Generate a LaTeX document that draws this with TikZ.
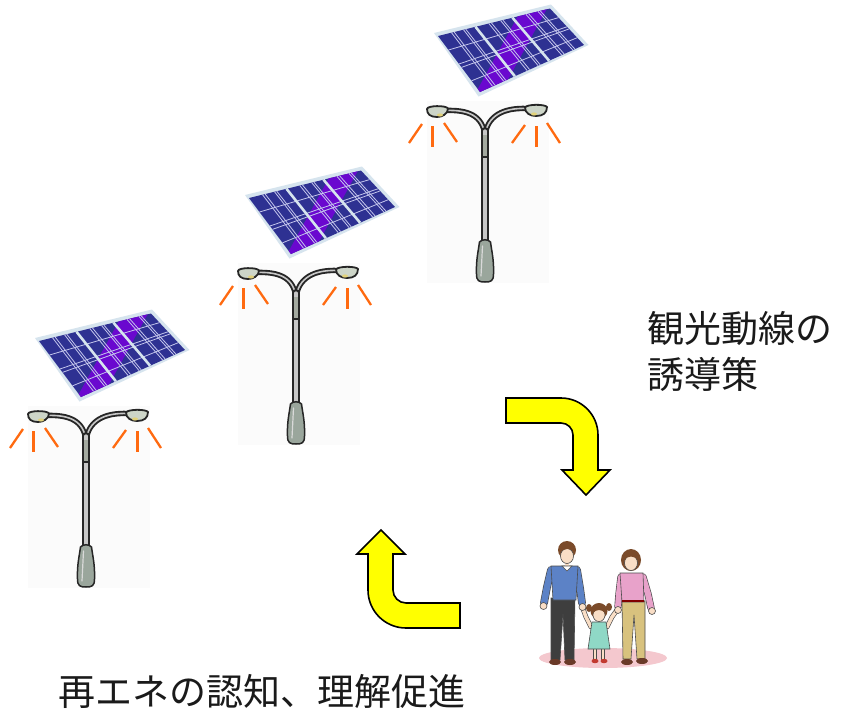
\documentclass[tikz,border=0pt]{standalone}
\usepackage{fontspec}
\usetikzlibrary{calc}
\newfontfamily\jpfont{Noto Sans CJK JP}

\definecolor{panelnavy}{HTML}{2E3192}
\definecolor{panelviolet}{HTML}{6A08CF}
\definecolor{panelframe}{HTML}{D6E4EE}
\definecolor{panelgrid}{HTML}{C4C6EC}
\definecolor{rayorange}{HTML}{FF6A10}
\definecolor{lampfill}{HTML}{CDD5C8}
\definecolor{lampbase}{HTML}{9AA69C}
\definecolor{lampbulb}{HTML}{E2D27A}
\definecolor{arrowyellow}{HTML}{FFFF00}
\definecolor{groundpink}{HTML}{F4C8CE}
\definecolor{skin}{HTML}{F9DEC6}
\definecolor{hairbrown}{HTML}{7B4B2A}
\definecolor{shirtblue}{HTML}{5C82C6}
\definecolor{pantdark}{HTML}{3E3E3E}
\definecolor{topPink}{HTML}{E8A2CA}
\definecolor{pantbeige}{HTML}{D8C27E}
\definecolor{dressmint}{HTML}{8FD8C6}
\definecolor{shoebrown}{HTML}{6A3A28}
\definecolor{shoered}{HTML}{C23A30}
\definecolor{textgray}{HTML}{1A1A1A}

\tikzset{
  gridln/.style={draw=panelgrid, line width=0.8},
  raystraight/.style={draw=rayorange, line width=3},
  rayslant/.style={draw=rayorange, line width=2.3},
  lampout/.style={draw=black!85, line cap=round},
  lampcore/.style={draw=black!22, line cap=round},
  bentarrow/.style={fill=arrowyellow, draw=black, line width=1.6, line join=miter},
  jptext/.style={inner sep=0pt, text=textgray, font=\jpfont\fontsize{37}{45}\selectfont},
  figline/.style={draw=black!70, line width=0.6},
}

% bilinear point (u,v) of the panel quad pa-pb-pc-pd, stored as coordinate #1
\newcommand\setpq[3]{%
  \path ($(pa)!#2!(pb)$) coordinate (pqtop) ($(pd)!#2!(pc)$) coordinate (pqbot);
  \path ($(pqtop)!#3!(pqbot)$) coordinate (#1);
}

% limb with dark outline: colour, width, path
\newcommand\limb[3]{%
  \draw[line cap=round, line width=#2+1.3, draw=black!70] #3;
  \draw[line cap=round, line width=#2, draw=#1] #3;
}

% one solar panel (in the frame of the first lamp)
\newcommand\solarpanel{%
  \fill[panelframe] (35,338) -- (152,309.5) -- (189.5,350) -- (79.5,401.5) -- cycle;
  \coordinate (pa) at (39,341);
  \coordinate (pb) at (151,313.5);
  \coordinate (pc) at (185,350);
  \coordinate (pd) at (81,397);
  \fill[panelnavy] (pa) -- (pb) -- (pc) -- (pd) -- cycle;
  \begin{scope}
    \clip (pa) -- (pb) -- (pc) -- (pd) -- cycle;
    \fill[panelviolet] (70,410) -- (130.5,300) -- (155.5,300) -- (95,410) -- cycle;
  \end{scope}
  \foreach \ua/\ub in {0/0.335,0.335/0.665,0.665/1}{
    \foreach \t in {0.36,0.43,0.68,0.74}{
      \pgfmathsetmacro\uu{\ua+\t*(\ub-\ua)}
      \draw[gridln] ($(pa)!\uu!(pb)$) -- ($(pd)!\uu!(pc)$);
    }
    \foreach \t in {0.25,0.5,0.56,0.8}{
      \setpq{ga}{\ua}{\t}
      \setpq{gb}{\ub}{\t}
      \draw[gridln] (ga) -- (gb);
    }
  }
  \draw[panelframe, line width=2.6] ($(pa)!0.335!(pb)$) -- ($(pd)!0.335!(pc)$);
  \draw[panelframe, line width=2.6] ($(pa)!0.665!(pb)$) -- ($(pd)!0.665!(pc)$);
}

% one two-armed street lamp with its light rays
\newcommand\streetlamp{%
  \fill[black!1.5] (28,406) rectangle (150,588);
  % light rays
  \draw[rayslant] (10,448) -- (23,429);
  \draw[raystraight] (33,431) -- (33,452);
  \draw[rayslant] (45,428) -- (58,447);
  \draw[rayslant] (113,448) -- (126,430);
  \draw[raystraight] (137,431) -- (137,452);
  \draw[rayslant] (148,428) -- (161,448);
  % arms
  \draw[lampout, line width=5.4] (46,415.5) .. controls (70,414.5) and (84,421) .. (86,441);
  \draw[lampout, line width=5.4] (128,413.5) .. controls (104,412.5) and (88,421) .. (86,441);
  \draw[lampcore, line width=1.6] (46,415.5) .. controls (70,414.5) and (84,421) .. (86,441);
  \draw[lampcore, line width=1.6] (128,413.5) .. controls (104,412.5) and (88,421) .. (86,441);
  % pole
  \draw[lampout, line width=8] (86,436) -- (86,552);
  \draw[lampcore, line width=3.2] (86,436) -- (86,552);
  \draw[black!20!lampfill, line width=3.2] (86,440) -- (86,461);
  \draw[black!85, line width=1.2] (82,462) -- (90,462);
  % foot
  \filldraw[fill=lampbase, draw=black!85, line width=1.5]
    (80.5,547) .. controls (79,558) and (77,565) .. (77.5,579)
    .. controls (77.5,586) and (80,587) .. (86,587)
    .. controls (92,587) and (94.5,586) .. (94.5,579)
    .. controls (95,565) and (93,558) .. (91.5,547)
    .. controls (89,544) and (83,544) .. cycle;
  \draw[black!15, line width=1.2, line cap=round] (83.5,551) -- (82,581);
  % heads
  \filldraw[fill=lampfill, draw=black!85, line width=1.8]
    (28,414) .. controls (28,410.5) and (47,410) .. (49,413.5)
    .. controls (49,419) and (43,422) .. (38,422)
    .. controls (31,422) and (28,419) .. cycle;
  \fill[lampbulb] (41,420) ellipse [x radius=3pt, y radius=1.6pt];
  \filldraw[fill=lampfill, draw=black!85, line width=1.8]
    (126,412.5) .. controls (128,409) and (146,409) .. (148,412)
    .. controls (148,418) and (144,421) .. (137,421)
    .. controls (131,421) and (126,418) .. cycle;
  \fill[lampbulb] (135,419) ellipse [x radius=3pt, y radius=1.6pt];
}

\begin{document}
\begin{tikzpicture}[x=1pt, y=-1pt]
\useasboundingbox (0,0) rectangle (847,721);
\fill[white] (0,0) rectangle (847,721);

% three lamps with solar panels, rising to the right
\begin{scope}
  \streetlamp
  \solarpanel
\end{scope}
\begin{scope}[shift={(210,-143)}]
  \streetlamp
  \solarpanel
\end{scope}
\begin{scope}[shift={(399,-305)}]
  \streetlamp
  \solarpanel
\end{scope}

% bent arrows of the cycle
\draw[bentarrow] (506,398) -- (561,398)
  .. controls (581.4,398) and (598,414.6) .. (598,435)
  -- (598,470) -- (610,470) -- (586,495) -- (562,470) -- (573,470) -- (573,435)
  .. controls (573,428.4) and (567.6,423) .. (561,423)
  -- (506,423) -- cycle;
\draw[bentarrow] (381,530) -- (405,554) -- (393,554) -- (393,590)
  .. controls (393,597.2) and (398.8,603) .. (406,603)
  -- (460,603) -- (460,628) -- (406,628)
  .. controls (385,628) and (368,611) .. (368,590)
  -- (368,554) -- (357,554) -- cycle;

% family walking
\fill[groundpink] (603,658) ellipse [x radius=64pt, y radius=10pt];
% father
\filldraw[fill=pantdark, figline] (551,598) -- (575,598) -- (574,660) -- (565,660)
  -- (563,614) -- (560,660) -- (551,660) -- cycle;
\fill[shoebrown] (555,662) ellipse [x radius=6pt, y radius=3pt];
\fill[shoebrown] (570,662) ellipse [x radius=6pt, y radius=3pt];
\limb{shirtblue}{6.5}{(551,570) -- (547,587) -- (544,603)}
\limb{shirtblue}{6.5}{(577,570) -- (580,588) -- (582,603)}
\filldraw[fill=shirtblue, figline] (551,566) -- (578,566) -- (576,600) -- (553,600) -- cycle;
\fill[skin] (565,560) rectangle (569,567);
\filldraw[fill=white, figline] (562,566) -- (567,571) -- (572,566) -- cycle;
\fill[hairbrown] (567,550) ellipse [x radius=9pt, y radius=9pt];
\filldraw[fill=skin, figline] (567,556) ellipse [x radius=6.5pt, y radius=7.5pt];
\fill[hairbrown] (559.5,553) .. controls (560,543) and (575,542) .. (575,553)
  .. controls (572,548) and (564,547) .. cycle;
\filldraw[fill=skin, figline] (543.5,606) circle [radius=3.5pt];
% mother
\filldraw[fill=pantbeige, figline] (622,601) -- (645,601) -- (645,659) -- (637,659)
  -- (634,615) -- (631,659) -- (623,659) -- cycle;
\fill[shoebrown] (627,662) ellipse [x radius=6pt, y radius=3pt];
\fill[shoebrown] (642,661) ellipse [x radius=6pt, y radius=3pt];
\limb{topPink}{6}{(621,577) -- (619,594) -- (618,607)}
\limb{topPink}{6}{(643,577) -- (648,594) -- (651,608)}
\filldraw[fill=topPink, figline] (620,573) -- (643,573) -- (644,602) -- (622,602) -- cycle;
\draw[red!50!black, line width=1.5] (622,601) -- (644,601);
\fill[hairbrown] (631,560) ellipse [x radius=10pt, y radius=11pt];
\filldraw[fill=skin, figline] (631,563) ellipse [x radius=6.5pt, y radius=7.5pt];
\fill[hairbrown] (623.5,561) .. controls (624,550) and (638,550) .. (638.5,561)
  .. controls (636,555) and (626,555) .. cycle;
\filldraw[fill=skin, figline] (652,611) circle [radius=3.5pt];
% child
\limb{skin}{2.8}{(595,648) -- (595,659)}
\limb{skin}{2.8}{(603,648) -- (603,659)}
\fill[shoered] (595,661) ellipse [x radius=3.5pt, y radius=2.2pt];
\fill[shoered] (604,661) ellipse [x radius=3.5pt, y radius=2.2pt];
\limb{skin}{3.5}{(591,627) -- (586,617) -- (583,609)}
\limb{skin}{3.5}{(607,627) -- (612,617) -- (617,610)}
\filldraw[fill=dressmint, figline] (592,622) -- (606,622) -- (610,649) -- (588,649) -- cycle;
\fill[hairbrown] (589,608) ellipse [x radius=3pt, y radius=4pt];
\fill[hairbrown] (609,607) ellipse [x radius=3pt, y radius=4pt];
\fill[hairbrown] (599,611) ellipse [x radius=8.5pt, y radius=8pt];
\filldraw[fill=skin, figline] (599,615) ellipse [x radius=6pt, y radius=6.5pt];
\fill[hairbrown] (593,613) .. controls (594,605) and (604,605) .. (605,613)
  .. controls (602,609) and (596,609) .. cycle;
% hands held
\filldraw[fill=skin, figline] (582.5,607) circle [radius=3.5pt];
\filldraw[fill=skin, figline] (618,610) circle [radius=3.5pt];

% captions
\node[jptext, anchor=west] (route1) at (647,329) {観光動線の};
\node[jptext, anchor=west] (route2) at (647,374) {誘導策};
\node[jptext, anchor=west] (aware) at (58,691) {再エネの認知、理解促進};
\end{tikzpicture}
\end{document}
